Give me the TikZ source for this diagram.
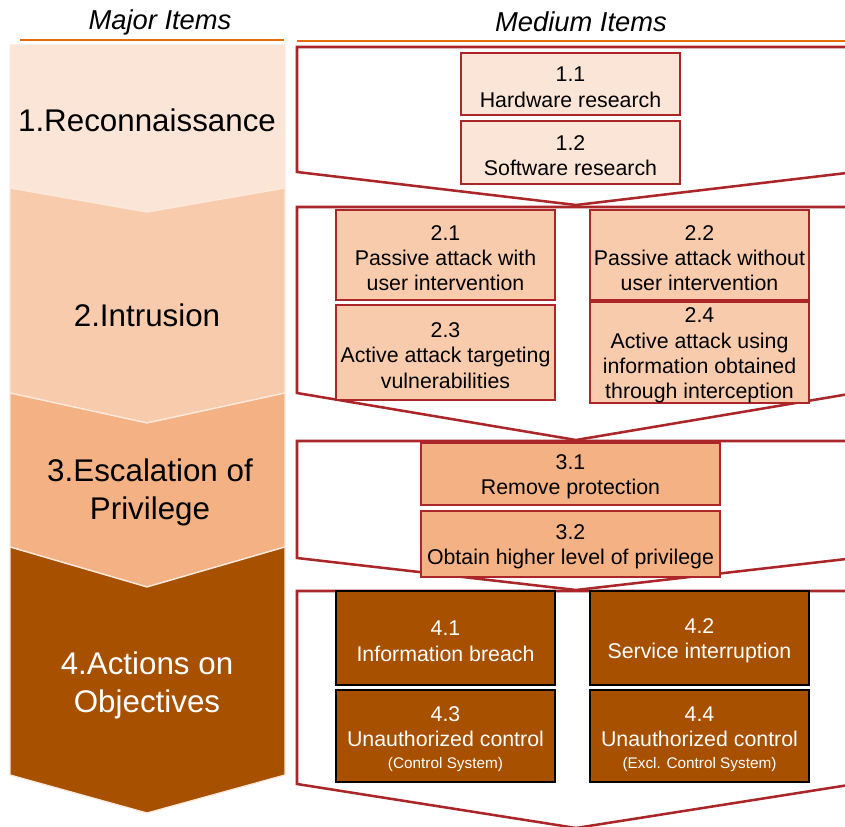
\documentclass[tikz,border=0pt]{standalone}
\usepackage{fontspec}
\setmainfont{Liberation Sans}
\definecolor{stageone}{RGB}{251,229,214}
\definecolor{stagetwo}{RGB}{248,203,173}
\definecolor{stagethree}{RGB}{244,177,131}
\definecolor{stagefour}{RGB}{166,80,0}
\definecolor{panelred}{RGB}{170,38,40}
\definecolor{rulecol}{RGB}{228,108,10}
\definecolor{chevline}{RGB}{253,233,220}
\newcommand{\boxfont}{\fontsize{16}{19}\selectfont}
\newcommand{\majorfont}{\fontsize{23.5}{28.5}\selectfont}
\newcommand{\itemno}[1]{\mbox{}\\[-3.25pt]#1}
\newcommand{\smallnote}[1]{\\[-3pt]{\fontsize{11.5}{13}\selectfont #1}}

\begin{document}
\begin{tikzpicture}[x=0.75pt,y=-0.75pt]
                        \tikzstyle{chev}=[draw=chevline, line width=1pt]
                        \tikzstyle{panel}=[draw=panelred, line width=1.9pt, line join=miter]
                        \tikzstyle{rule}=[draw=rulecol, line width=1.5pt]
                        \tikzstyle{header}=[font=\fontsize{20.5}{24}\selectfont\itshape, inner sep=0pt]
                        \tikzstyle{major}=[font=\majorfont, align=center, inner sep=0pt]
                        \tikzstyle{item}=[draw=panelred, line width=1.5pt, inner sep=0pt, align=center, font=\boxfont]
                        \tikzstyle{itemone}=[item, fill=stageone, minimum width=164.25pt]
                        \tikzstyle{itemtwo}=[item, fill=stagetwo, minimum width=164.25pt]
                        \tikzstyle{itemthree}=[item, fill=stagethree, minimum width=224.25pt]
                        \tikzstyle{itemfour}=[item, draw=black, fill=stagefour, text=white, minimum width=164.25pt]
                        \useasboundingbox (0,0) rectangle (845,827);
                        \clip (0,0) rectangle (845,827);
                        % headers
                        \node[header] (majorhead) at (160,22) {Major Items};
                        \node[header] (mediumhead) at (581,22) {Medium Items};
                        \draw[rule] (20,40) -- (284,40);
                        \draw[rule] (297,41) -- (845,41);
                        % chevrons
                        \path[chev, fill=stageone] (10,45) -- (285,45) -- (285,188) -- (147,212) -- (10,188) -- cycle;
                        \path[chev, fill=stagetwo] (10,188) -- (147,212) -- (285,188) -- (285,393) -- (147,423) -- (10,393) -- cycle;
                        \path[chev, fill=stagethree] (10,393) -- (147,423) -- (285,393) -- (285,547) -- (147,587) -- (10,547) -- cycle;
                        \path[chev, fill=stagefour] (10,547) -- (147,587) -- (285,547) -- (285,775) -- (147,813) -- (10,775) -- cycle;
                        \node[major] (recon) at (147,120) {1.Reconnaissance};
                        \node[major] (intrusion) at (147,315) {2.Intrusion};
                        \node[major] (escalation) at (150,492) {3.Escalation of\\Privilege};
                        \node[major, text=white] (actions) at (147,685) {4.Actions on\\Objectives};
                        % panels
                        \draw[panel] (297,47) -- (855,47) -- (855,172) -- (576,205) -- (297,172) -- cycle;
                        \draw[panel] (297,207) -- (855,207) -- (855,393) -- (576,440) -- (297,393) -- cycle;
                        \draw[panel] (297,441) -- (855,441) -- (855,558) -- (576,590) -- (297,558) -- cycle;
                        \draw[panel] (297,591) -- (855,591) -- (855,784) -- (576,828) -- (297,784) -- cycle;
                        % medium items
                        \node[itemone, minimum height=46.5pt] (hw) at (570.5,84) {\itemno{1.1}\\Hardware research};
                        \node[itemone, minimum height=47.25pt] (sw) at (570.5,152.5) {\itemno{1.2}\\Software research};
                        \node[itemtwo, minimum height=67.5pt] (passivewith) at (445.5,255) {\itemno{2.1}\\Passive attack with\\user intervention};
                        \node[itemtwo, minimum height=67.5pt] (passivewithout) at (699.5,255) {\itemno{2.2}\\Passive attack without\\user intervention};
                        \node[itemtwo, minimum height=71.25pt] (activevuln) at (445.5,352.5) {\itemno{2.3}\\Active attack targeting\\vulnerabilities};
                        \node[itemtwo, minimum height=71.25pt] (activeinfo) at (699.5,352.5) {\itemno{2.4}\\Active attack using\\information obtained\\through interception};
                        \node[itemthree, minimum height=46.5pt] (removeprot) at (570.5,474) {\itemno{3.1}\\Remove protection};
                        \node[itemthree, minimum height=49.5pt] (higherpriv) at (570.5,544) {\itemno{3.2}\\Obtain higher level of privilege};
                        \node[itemfour, minimum height=70.5pt] (breach) at (445.5,638) {\itemno{4.1}\\Information breach};
                        \node[itemfour, minimum height=70.5pt] (interrupt) at (699.5,638) {\itemno{4.2}\\Service interruption};
                        \node[itemfour, minimum height=69pt] (ctrlsys) at (445.5,736) {\itemno{4.3}\\Unauthorized control\smallnote{(Control System)}};
                        \node[itemfour, minimum height=69pt] (ctrlexcl) at (699.5,736) {\itemno{4.4}\\Unauthorized control\smallnote{(Excl. Control System)}};
                    \end{tikzpicture}
\end{document}
